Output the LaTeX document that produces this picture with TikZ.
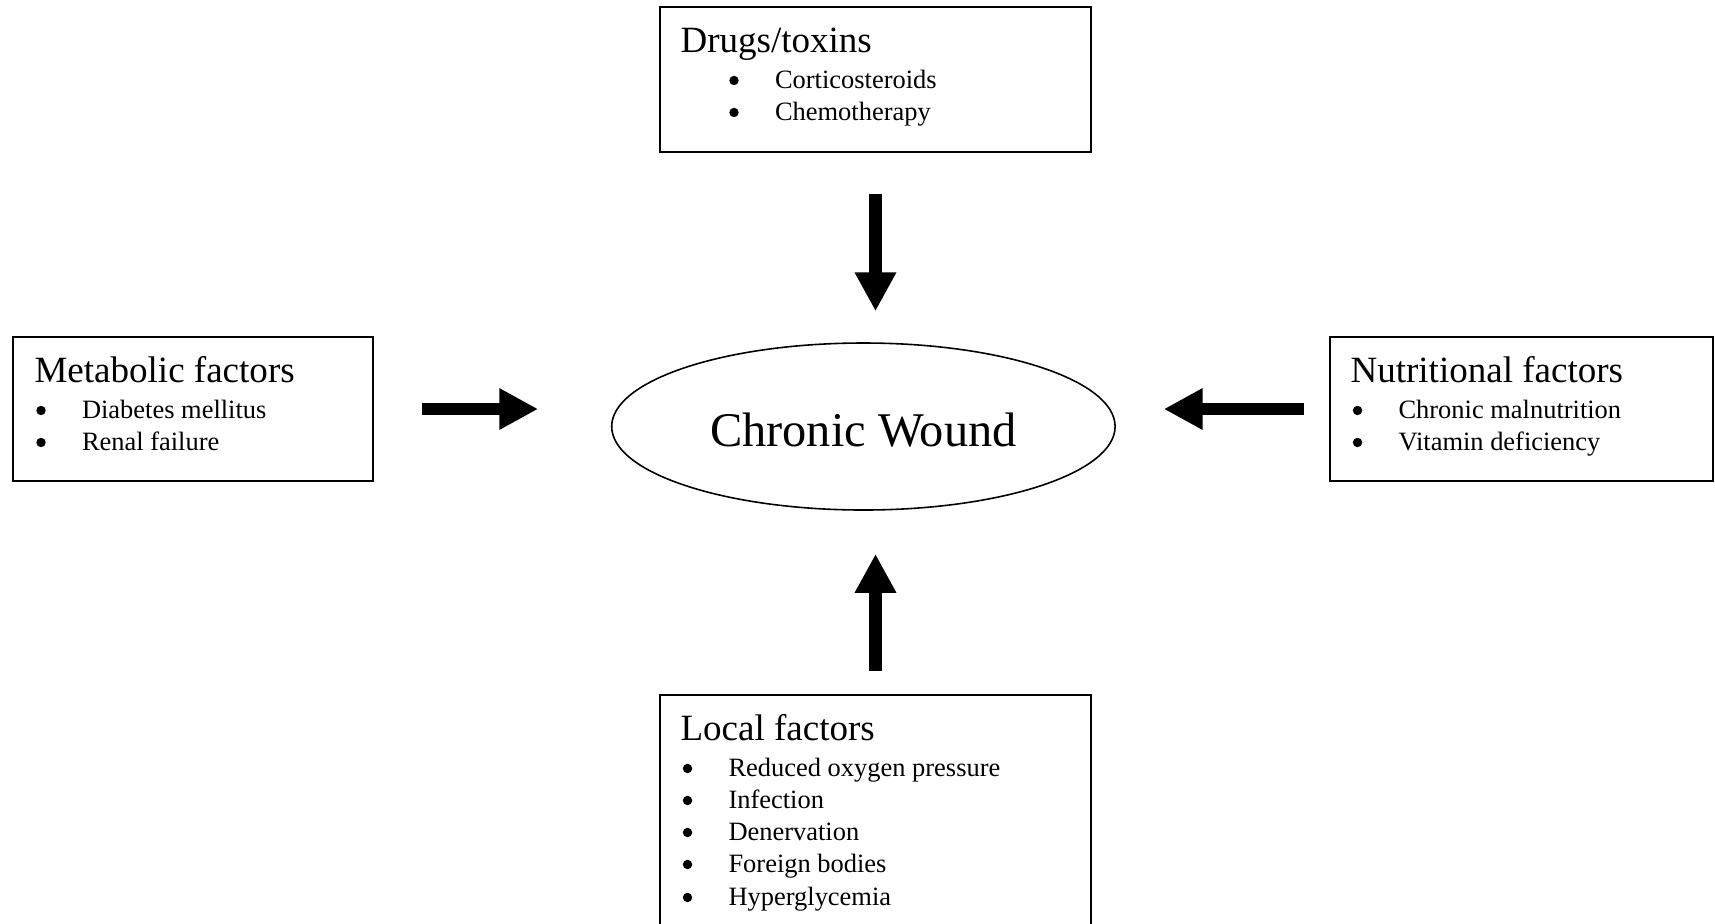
\documentclass[tikz,border=0pt]{standalone}
\usepackage{fontspec}
\setmainfont{Liberation Serif}
\usetikzlibrary{arrows.meta,shapes.geometric}
\newdimen\pxu \pxu=0.378pt
\newcommand\bul{\makebox[45.6\pxu][l]{\tikz[baseline=0pt]{\useasboundingbox (0pt,0pt); \fill (1.74pt,2.85pt) circle[radius=1.78pt];}}}
\begin{document}
\begin{tikzpicture}[x=0.378pt, y=-0.378pt,
  box/.style={draw, line width=0.8pt, inner sep=0pt, anchor=center},
  ttl/.style={anchor=base west, inner sep=0pt, font=\fontsize{14}{16}\selectfont},
  itm/.style={anchor=base west, inner sep=0pt, font=\fontsize{10}{12}\selectfont},
  bigarrow/.style={line width=4.65pt, -{Triangle[width=14.7pt,length=14.7pt]}}]
\clip (0,0) rectangle (1715,923);
\fill[white] (0,0) rectangle (1715,923);

% boxes
\node[box, minimum width=431*\pxu, minimum height=145*\pxu] (drugs) at (875.5,79.5) {};
\node[box, minimum width=360*\pxu, minimum height=144*\pxu] (meta) at (193,409) {};
\node[box, minimum width=383*\pxu, minimum height=144*\pxu] (nutri) at (1521.5,409) {};
\node[box, minimum width=431*\pxu, minimum height=240*\pxu] (local) at (875.5,815) {};

% centre ellipse
\node[ellipse, draw, line width=0.6pt, inner sep=0pt,
      minimum width=503.4*\pxu, minimum height=167*\pxu,
      font=\fontsize{18.3}{22}\selectfont] (wound) at (863.4,426.5)
      {\raisebox{-3.3\pxu}[\height][\depth]{Chronic Wound}};

% texts: drugs
\node[ttl] (dT) at (680,52) {Drugs/toxins};
\node[itm] (d1) at (728.9,88) {\bul Corticosteroids};
\node[itm] (d2) at (728.9,120) {\bul Chemotherapy};

% metabolic
\node[ttl] (mT) at (34,382) {Metabolic factors};
\node[itm] (m1) at (35.9,418) {\bul Diabetes mellitus};
\node[itm] (m2) at (35.9,450) {\bul Renal failure};

% nutritional
\node[ttl] (nT) at (1350,382) {Nutritional factors};
\node[itm] (n1) at (1352.4,418) {\bul Chronic malnutrition};
\node[itm] (n2) at (1352.4,450) {\bul Vitamin deficiency};

% local
\node[ttl] (lT) at (680,740) {Local factors};
\node[itm] (l1) at (682.4,776) {\bul Reduced oxygen pressure};
\node[itm] (l2) at (682.4,808) {\bul Infection};
\node[itm] (l3) at (682.4,840) {\bul Denervation};
\node[itm] (l4) at (682.4,872) {\bul Foreign bodies};
\node[itm] (l5) at (682.4,905) {\bul Hyperglycemia};

% arrows
\draw[bigarrow, shorten <=15.5pt, shorten >=11.7pt] (drugs.south) -- (drugs.south |- wound.north);
\draw[bigarrow, shorten <=8.7pt, shorten >=16.3pt] (local.north) -- (local.north |- wound.south);
\draw[bigarrow, shorten <=18.1pt, shorten >=27.5pt] (meta.east) -- (meta.east -| wound.west);
\draw[bigarrow, shorten <=9.45pt, shorten >=18.1pt] (nutri.west) -- (nutri.west -| wound.east);
\end{tikzpicture}
\end{document}
